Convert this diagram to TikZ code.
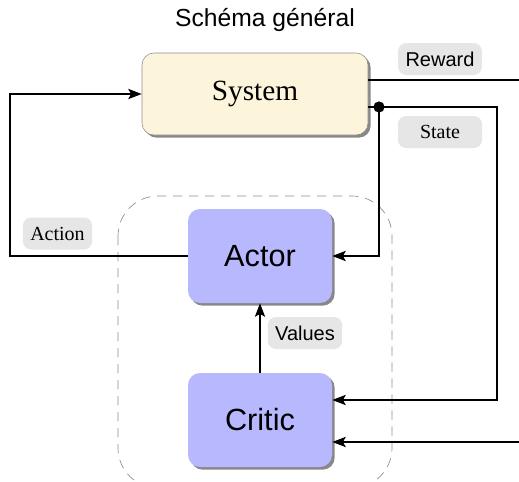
\documentclass[tikz,border=0pt]{standalone}
\usepackage{fontspec}
\setmainfont{Liberation Serif}
\setsansfont{Liberation Sans}
\usetikzlibrary{arrows.meta,shadows}
\definecolor{syscream}{HTML}{FCF5DC}
\definecolor{agentblue}{HTML}{B8B8FF}
\definecolor{tagfill}{HTML}{E6E6E6}
\begin{document}
\begin{tikzpicture}[x=0.75pt,y=-0.75pt,
  boxshadow/.style={drop shadow={shadow xshift=2pt,shadow yshift=-2pt,fill=black!55,opacity=0.85}},
  sysbox/.style={rounded corners=9pt,minimum width=169.5pt,minimum height=61.5pt,
    fill=syscream,draw=black!45,line width=0.4pt,boxshadow,
    font=\fontsize{22}{26}\selectfont},
  agentbox/.style={rounded corners=9pt,minimum width=108pt,minimum height=70.5pt,
    fill=agentblue,boxshadow,font=\sffamily\fontsize{23}{27}\selectfont},
  tag/.style={rounded corners=6pt,fill=tagfill,inner xsep=5.5pt,inner ysep=0pt,
    minimum height=24pt,font=\fontsize{15}{17}\selectfont},
  sanstag/.style={tag,font=\sffamily\fontsize{15}{17}\selectfont},
  conn/.style={line width=1.7pt},
  arr/.style={conn,-{Stealth[length=10pt,width=7.5pt,inset=2pt]}},
  frame/.style={draw=black!45,line width=0.5pt,dash pattern=on 7pt off 5pt,rounded corners=30pt}
]
\useasboundingbox (0,0) rectangle (519,482);

% dashed agent frame (drawn first, behind everything)
\draw[frame] (118,196) rectangle (392,488);

% title
\node[font=\sffamily\fontsize{18.5}{22}\selectfont] (title) at (265,20) {Schéma général};

% main blocks
\node[sysbox] (system) at (255,94) {System};
\node[agentbox] (actor) at (260,256) {Actor};
\node[agentbox] (critic) at (260,420) {Critic};

% labels
\node[sanstag] (reward) at (440,59) {Reward};
\node[tag,minimum width=63pt] (state) at (440,132) {State};
\node[tag] (action) at (57.5,233.5) {Action};
\node[sanstag] (values) at (305,333) {Values};

% helper coordinates
\coordinate (rw) at (519,80);
\coordinate (st) at (379,107);
\coordinate (sc) at (497,400);
\coordinate (al) at (10,256);
\coordinate (cr) at (519,442);

% reward output
\draw[conn] (rw -| system.east) -- (rw);
% state output and its branches
\draw[conn] (st -| system.east) -- (st);
\fill (st) circle (4.2pt);
\draw[arr] (st) -| (sc) -- (sc -| critic.east);
\draw[arr] (st) |- (actor.east);
% action back to the system
\draw[arr] (actor.west) -- (al) |- (system.west);
% values from critic to actor
\draw[arr] (critic.north) -- (actor.south);
% reward into the critic
\draw[arr] (cr) -- (cr -| critic.east);
\end{tikzpicture}
\end{document}
